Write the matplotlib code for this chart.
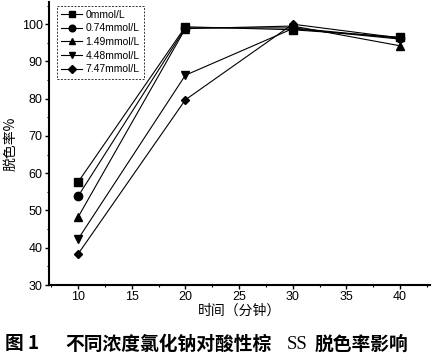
import matplotlib
matplotlib.use("Agg")
import matplotlib.pyplot as plt
from matplotlib.ticker import MultipleLocator

plt.rcParams['font.family'] = ['Liberation Sans', 'Noto Sans CJK SC', 'DejaVu Sans']

times = [10, 20, 30, 40]
labels = ["0mmol/L", "0.74mmol/L", "1.49mmol/L", "4.48mmol/L", "7.47mmol/L"]
s0 = [57.6, 99.3, 98.5, 96.5]
s074 = [53.8, 99.0, 99.0, 96.2]
s149 = [48.2, 98.8, 99.5, 94.2]
s448 = [42.3, 86.3, 98.8, 96.0]
s747 = [38.3, 79.7, 100.0, 96.3]
series = [s0, s074, s149, s448, s747]
markers = ['s', 'o', '^', 'v', 'D']
msizes = [6, 6, 6, 6, 4.5]

fig = plt.figure(figsize=(4.34, 3.64), dpi=100)
ax = fig.add_axes([0.113, 0.217, 0.878, 0.778])

for vals, lab, m, ms in zip(series, labels, markers, msizes):
    ax.plot(times, vals, color='black', lw=0.8, marker=m, ms=ms, label=lab)

ax.set_xlim(7.3, 42.8)
ax.set_ylim(30, 106)
ax.xaxis.set_major_locator(MultipleLocator(5))
ax.yaxis.set_major_locator(MultipleLocator(10))
ax.xaxis.set_minor_locator(MultipleLocator(2.5))
ax.yaxis.set_minor_locator(MultipleLocator(5))
for s in ['top', 'right']:
    ax.spines[s].set_visible(False)
for s in ['left', 'bottom']:
    ax.spines[s].set_linewidth(1.5)
ax.tick_params(axis='both', which='major', labelsize=9, length=3, width=1, direction='out', pad=1.5)
ax.tick_params(axis='both', which='minor', length=1.5, width=0.8)

ax.set_xlabel("时间（分钟）", fontsize=10, family=['Noto Sans CJK SC'], labelpad=0)
ax.set_ylabel("脱色率%", fontsize=10, family=['Noto Sans CJK SC', 'DejaVu Sans'], labelpad=3)

leg = ax.legend(loc='upper left', bbox_to_anchor=(0.008, 1.005), fontsize=7.5, frameon=True,
                fancybox=False, edgecolor='black', handlelength=2.0, borderpad=0.4,
                labelspacing=0.35, handletextpad=0.3, markerscale=0.8)
leg.get_frame().set_linestyle((0, (2, 1.5)))
leg.get_frame().set_linewidth(0.7)

fig.text(0.012, 0.04, "图 1", fontsize=13.5, weight='bold', family=['Noto Sans CJK SC'])
fig.text(0.15, 0.04, "不同浓度氯化钠对酸性棕", fontsize=13.5, weight='bold', family=['Noto Sans CJK SC'])
fig.text(0.66, 0.04, "SS", fontsize=13.5, family=['Liberation Serif'])
fig.text(0.725, 0.04, "脱色率影响", fontsize=13.5, weight='bold', family=['Noto Sans CJK SC'])

fig.savefig("out.png", dpi=100, facecolor='white')
